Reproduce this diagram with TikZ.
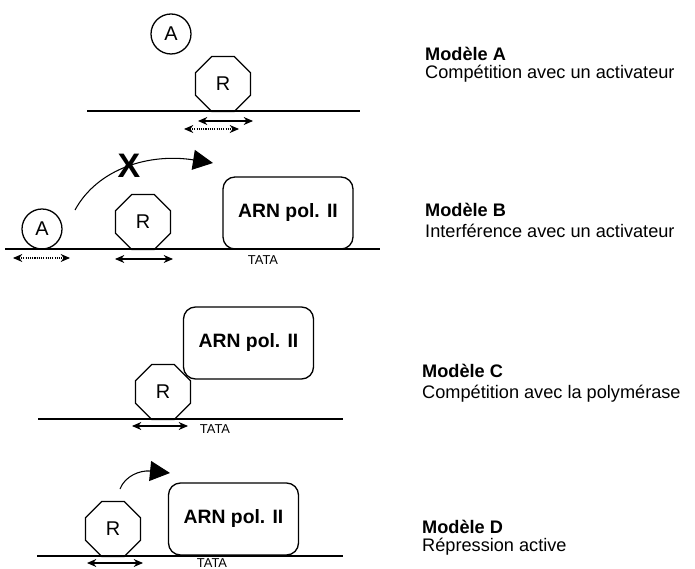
\documentclass[tikz,border=0pt]{standalone}
\usepackage{fontspec}
\setmainfont{Liberation Sans}
\usetikzlibrary{shapes.geometric}
\usetikzlibrary{arrows.meta}
\tikzset{
    every node/.style={
        font=\fontsize{17}{19}\selectfont},
    activ/.style={
        circle,
        draw,
        line width=1.1pt,
        minimum size=1.2cm,
        inner sep=0pt},
    repr/.style={
        regular polygon,
        regular polygon sides=8,
        draw,
        line width=1.1pt,
        minimum size=1.78cm,
        inner sep=0pt},
    polym/.style={
        draw,
        rounded corners=0.36cm,
        line width=1.1pt,
        minimum width=3.9cm,
        minimum height=2.16cm,
        font=\fontsize{16.5}{19}\selectfont\bfseries},
    adn/.style={
        line width=1.3pt},
    zone/.style={
        {Stealth[length=2.8mm,width=2.4mm]}-{Stealth[length=2.8mm,width=2.4mm]},
        line width=0.9pt},
    fleche/.style={
        -{Triangle[length=6mm,width=6mm]},
        line width=0.9pt},
    tata/.style={
        anchor=base,
        inner sep=0pt,
        font=\fontsize{11}{12}\selectfont},
    titre/.style={
        anchor=base west,
        inner sep=0pt,
        font=\fontsize{15.5}{18}\selectfont\bfseries},
    soustitre/.style={
        anchor=base west,
        inner sep=0pt,
        font=\fontsize{15.5}{18}\selectfont}}

\begin{document}
\begin{tikzpicture}[x=0.03cm, y=-0.03cm]
        \useasboundingbox (0,0) rectangle (695,569);

        % Modele A
        \node[activ] (a1) at (171,34) {A};
        \node[repr] (r1) at (223,84) {R};
        \coordinate (dl1) at (87,111);
        \coordinate (dr1) at (360,111);
        \draw[adn] (dl1) -- (dr1);
        \coordinate (s1a) at (198,121);
        \coordinate (s1b) at (253,121);
        \coordinate (d1a) at (184,129);
        \coordinate (d1b) at (239,129);
        \draw[zone] (s1a) -- (s1b);
        \draw[zone, densely dotted] (d1a) -- (d1b);
        \node[titre] (tA) at (425,61) {Modèle A};
        \node[soustitre] (sA) at (425,79) {Compétition avec un activateur};

        % Modele B
        \node[activ] (a2) at (42,229) {A};
        \node[repr] (r2) at (143,222) {R};
        \node[polym] (p2) at (288,213) {ARN pol. II};
        \coordinate (dl2) at (5,249);
        \coordinate (dr2) at (380,249);
        \draw[adn] (dl2) -- (dr2);
        \node[tata] (t2) at (263,265) {TATA};
        \coordinate (d2a) at (13,258);
        \coordinate (d2b) at (70,258);
        \coordinate (s2a) at (115,259);
        \coordinate (s2b) at (173,259);
        \draw[zone, densely dotted] (d2a) -- (d2b);
        \draw[zone] (s2a) -- (s2b);
        \coordinate (m2a) at (75,210);
        \coordinate (m2b) at (213,163);
        \draw[fleche] (m2a) .. controls (98,168) and (150,153) .. (m2b);
        \node[font=\fontsize{29}{29}\selectfont\bfseries] (x2) at (129,166) {X};
        \node[titre] (tB) at (425,217) {Modèle B};
        \node[soustitre] (sB) at (425,238) {Interférence avec un activateur};

        % Modele C
        \node[repr] (r3) at (163,392) {R};
        \node[polym] (p3) at (248.5,343) {ARN pol. II};
        \coordinate (dl3) at (38,419);
        \coordinate (dr3) at (343,419);
        \draw[adn] (dl3) -- (dr3);
        \node[tata] (t3) at (215,433) {TATA};
        \coordinate (s3a) at (132,426);
        \coordinate (s3b) at (188,426);
        \draw[zone] (s3a) -- (s3b);
        \node[titre] (tC) at (422,377) {Modèle C};
        \node[soustitre] (sC) at (422,398) {Compétition avec la polymérase};

        % Modele D
        \node[repr] (r4) at (113,529) {R};
        \node[polym] (p4) at (233.5,519) {ARN pol. II};
        \coordinate (dl4) at (37,556);
        \coordinate (dr4) at (343,556);
        \draw[adn] (dl4) -- (dr4);
        \node[tata] (t4) at (212,567.5) {TATA};
        \coordinate (s4a) at (87,563);
        \coordinate (s4b) at (143,563);
        \draw[zone] (s4a) -- (s4b);
        \coordinate (m4a) at (120,489);
        \coordinate (m4b) at (170,473);
        \draw[fleche] (m4a) .. controls (125,476) and (140,470) .. (m4b);
        \node[titre] (tD) at (422,533) {Modèle D};
        \node[soustitre] (sD) at (422,551) {Répression active};
\end{tikzpicture}
\end{document}
